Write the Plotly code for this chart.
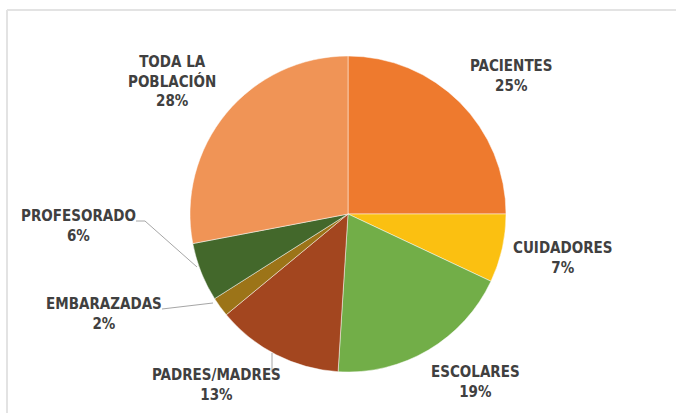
import plotly.graph_objects as go

# data
labels = ["PACIENTES", "CUIDADORES", "ESCOLARES", "PADRES/MADRES",
          "EMBARAZADAS", "PROFESORADO", "TODA LA POBLACIÓN"]
values = [25, 7, 19, 13, 2, 6, 28]
label_text = ["PACIENTES", "CUIDADORES", "ESCOLARES", "PADRES/MADRES",
              "EMBARAZADAS", "PROFESORADO", "TODA LA<br>POBLACIÓN"]
colors = ["#EE7A2E", "#FBC011", "#72AE48", "#A3461F",
          "#9C7418", "#43682B", "#F09456"]

W, H = 676, 413

# label centres in pixels (layout only)
label_pos = [(511, 76), (563, 258), (475, 382), (217, 385),
             (104, 314), (78, 226), (172, 82)]

# leader lines in pixels
leaders = [
    [(136, 221), (145, 221), (197, 267)],
    [(162, 309), (213, 303)],
    [(272, 353), (272, 372)],
]

def px(x, y):
    return x / W, 1 - y / H

cx, cy, r = 348, 214, 158

fig = go.Figure()
fig.add_trace(go.Pie(
    labels=labels, values=values, sort=False, direction="clockwise", rotation=0,
    marker=dict(colors=colors, line=dict(color="rgba(255,255,255,0.6)", width=0.8)),
    textinfo="none", hoverinfo="label+percent",
    domain=dict(x=[(cx - r) / W, (cx + r) / W], y=[1 - (cy + r) / H, 1 - (cy - r) / H]),
    showlegend=False,
))

font = dict(family="Liberation Sans Narrow, DejaVu Sans Condensed, Arial Narrow, sans-serif",
            size=15, color="#404040")

total = sum(values)
for txt, v, (x, y) in zip(label_text, values, label_pos):
    ax, ay = px(x, y)
    fig.add_annotation(x=ax, y=ay, xref="paper", yref="paper", showarrow=False,
                       text="<b>%s<br>%d%%</b>" % (txt, round(v * 100 / total)),
                       font=font, xanchor="center", yanchor="middle", align="center")

shapes = []
for pts in leaders:
    path = "M " + " L ".join("%f,%f" % px(x, y) for x, y in pts)
    shapes.append(dict(type="path", path=path, xref="paper", yref="paper",
                       line=dict(color="#A6A6A6", width=1)))

# chart frame (top and left edges only)
fx, fy = px(7, 10)
shapes.append(dict(type="line", xref="paper", yref="paper",
                   x0=fx, x1=1, y0=fy, y1=fy, line=dict(color="#E3E3E3", width=2)))
shapes.append(dict(type="line", xref="paper", yref="paper",
                   x0=fx, x1=fx, y0=0, y1=fy, line=dict(color="#E3E3E3", width=2)))

fig.update_layout(
    width=W, height=H,
    margin=dict(t=0, l=0, b=0, r=0),
    paper_bgcolor="white", plot_bgcolor="white",
    shapes=shapes,
)

fig.write_html("out.html", config={"displayModeBar": False},
               post_script="document.body.style.margin='0';")
